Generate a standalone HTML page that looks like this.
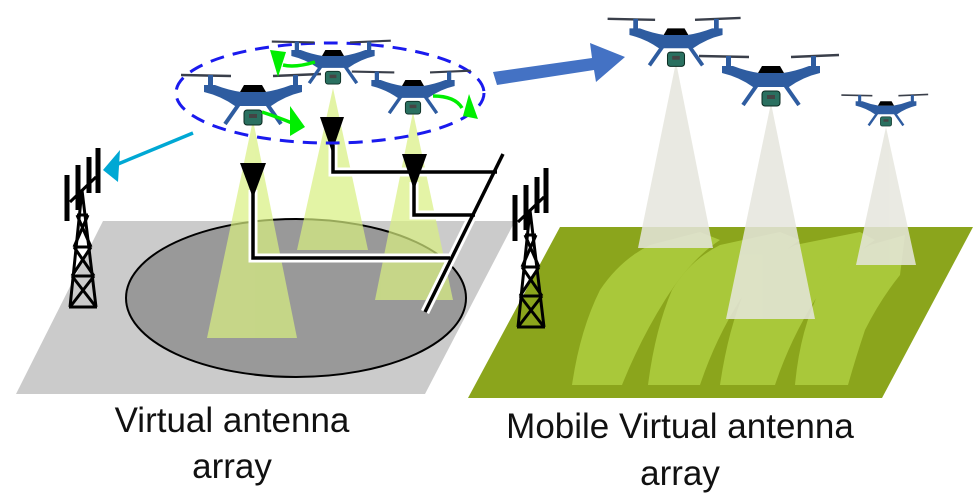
<!DOCTYPE html>
<html><head><meta charset="utf-8"><style>
html,body{margin:0;padding:0;background:#fff;}
svg{display:block;}
text{font-family:"Liberation Sans",sans-serif;font-size:35px;fill:#111;}
</style></head><body>
<svg width="979" height="499" viewBox="0 0 979 499" xmlns="http://www.w3.org/2000/svg">
<defs>
<g id="drone">
  <line x1="-72" y1="-37" x2="-22" y2="-36" stroke="#3a3f4a" stroke-width="2.5"/>
  <line x1="20" y1="-36" x2="68" y2="-38" stroke="#3a3f4a" stroke-width="2.5"/>
  <rect x="-45" y="-37" width="5" height="12" fill="#2e5ca0"/>
  <rect x="40" y="-37" width="5" height="12" fill="#2e5ca0"/>
  <path d="M-49,-27 L-38,-27 Q-25,-22 -12,-20 L12,-20 Q25,-22 38,-27 L49,-27 L49,-20 Q32,-16 18,-6 L-18,-6 Q-32,-16 -49,-20Z" fill="#2e5ca0"/>
  <path d="M-13,-20 L-9,-27 L9,-27 L13,-20Z" fill="#000"/>
  <path d="M-14,-8 L-28,12" stroke="#2e5ca0" stroke-width="4"/>
  <path d="M14,-8 L28,12" stroke="#2e5ca0" stroke-width="4"/>
  <rect x="-9" y="-2" width="18" height="15" rx="3" fill="#2a7060" stroke="#0a2a20" stroke-width="1"/>
  <rect x="-4" y="2" width="8" height="4" fill="#444"/>
</g>
</defs>

<polygon points="103,221 515,221 425,394 16,394" fill="#cbcbcb"/>
<ellipse cx="296" cy="298" rx="170" ry="79" fill="#999" stroke="#000" stroke-width="2"/>

<g fill="#d8f080" opacity="0.7">
  <polygon points="253,120 297,338 207,338"/>
  <polygon points="333,88 368,250 297,250"/>
  <polygon points="413,112 453,300 375,300"/>
</g>

<g fill="none" stroke-linejoin="miter">
  <path d="M253,190 V258 H450" stroke="#fff" stroke-width="9"/>
  <path d="M333,145 V172 H497" stroke="#fff" stroke-width="9"/>
  <path d="M414,182 V215 H475" stroke="#fff" stroke-width="9"/>
  <line x1="503" y1="154" x2="425" y2="312" stroke="#fff" stroke-width="9"/>
  <path d="M253,190 V258 H450" stroke="#000" stroke-width="3.5"/>
  <path d="M333,145 V172 H497" stroke="#000" stroke-width="3.5"/>
  <path d="M414,182 V215 H475" stroke="#000" stroke-width="3.5"/>
  <line x1="503" y1="154" x2="425" y2="312" stroke="#000" stroke-width="3.5"/>
</g>
<polygon points="240,163 266,163 253,198" fill="#000"/>
<polygon points="320,117 344,117 332,152" fill="#000"/>
<polygon points="402,154 427,154 414,190" fill="#000"/>

<polygon points="560,227 973,227 882,398 468,398" fill="#8ba51c"/>
<g fill="#a9c83a">
  <path d="M600,290 Q620,260 650,245 L700,232 L720,240 Q690,260 665,300 Q640,340 622,385 L572,385 Q580,330 600,290Z"/>
  <path d="M672,290 Q690,260 720,245 L780,232 L800,240 Q770,260 740,300 Q715,340 700,385 L648,385 Q655,330 672,290Z"/>
  <path d="M745,290 Q765,260 795,245 L860,232 L875,240 Q845,260 815,300 Q790,340 775,385 L720,385 Q728,330 745,290Z"/>
  <path d="M820,290 Q840,260 870,245 L905,235 L900,275 Q880,300 865,330 Q855,360 848,385 L795,385 Q800,330 820,290Z"/>
</g>
<g fill="#e6e6de" opacity="0.85">
  <polygon points="676,62 713,248 638,248"/>
  <polygon points="771,103 815,319 726,319"/>
  <polygon points="886,127 916,265 856,265"/>
</g>

<g stroke="#000" fill="none" stroke-width="3">
  <g>
    <line x1="67" y1="175" x2="67" y2="221" stroke-width="5"/>
    <line x1="78" y1="165" x2="78" y2="210" stroke-width="5"/>
    <line x1="89" y1="157" x2="89" y2="193" stroke-width="5"/>
    <line x1="98" y1="148" x2="98" y2="193" stroke-width="5"/>
    <line x1="70" y1="202" x2="96" y2="177"/>
    <path d="M82,190 L70,307 M82,190 L96,307 M69,307 H97"/>
    <path d="M77,215 L88,215 M74,247 L91,247 M72,276 L94,276 M77,215 L91,247 M88,215 L74,247 M74,247 L94,276 M91,247 L72,276 M72,276 L96,307 M94,276 L70,307"/>
  </g>
  <g transform="translate(448,20)">
    <line x1="67" y1="175" x2="67" y2="221" stroke-width="5"/>
    <line x1="78" y1="165" x2="78" y2="210" stroke-width="5"/>
    <line x1="89" y1="157" x2="89" y2="193" stroke-width="5"/>
    <line x1="98" y1="148" x2="98" y2="193" stroke-width="5"/>
    <line x1="70" y1="202" x2="96" y2="177"/>
    <path d="M82,190 L70,307 M82,190 L96,307 M69,307 H97"/>
    <path d="M77,215 L88,215 M74,247 L91,247 M72,276 L94,276 M77,215 L91,247 M88,215 L74,247 M74,247 L94,276 M91,247 L72,276 M72,276 L96,307 M94,276 L70,307"/>
  </g>
</g>

<ellipse cx="330" cy="93" rx="154" ry="50" fill="none" stroke="#1a1aee" stroke-width="3" stroke-dasharray="14,9"/>

<use href="#drone" transform="translate(253,112)"/>
<use href="#drone" transform="translate(333,73) scale(0.85)"/>
<use href="#drone" transform="translate(413,103) scale(0.85)"/>
<use href="#drone" transform="translate(676,54) scale(0.95)"/>
<use href="#drone" transform="translate(771,93)"/>
<use href="#drone" transform="translate(886,118) scale(0.62)"/>

<g stroke="#00ee00" stroke-width="3.5" fill="none">
  <path d="M262,112 Q280,118 292,123"/>
  <path d="M315,62 Q295,68 283,65"/>
  <path d="M433,96 Q455,96 462,108"/>
</g>
<g fill="#00ee00">
  <polygon points="290,106 305,127 290,136"/>
  <polygon points="270,50 286,52 278,77"/>
  <polygon points="469,94 478,119 463,116"/>
</g>

<line x1="193" y1="133" x2="118" y2="164" stroke="#00a8d4" stroke-width="3.5"/>
<polygon points="103,170 120,150 118,182" fill="#00a8d4"/>

<polygon points="493,72 592,58 590,43 625,57 596,82 594,70 497,85" fill="#4472c4"/>

<text x="232" y="432" text-anchor="middle">Virtual antenna</text>
<text x="232" y="478" text-anchor="middle">array</text>
<text x="680" y="438" text-anchor="middle">Mobile Virtual antenna</text>
<text x="680" y="485" text-anchor="middle">array</text>
</svg>
</body></html>
